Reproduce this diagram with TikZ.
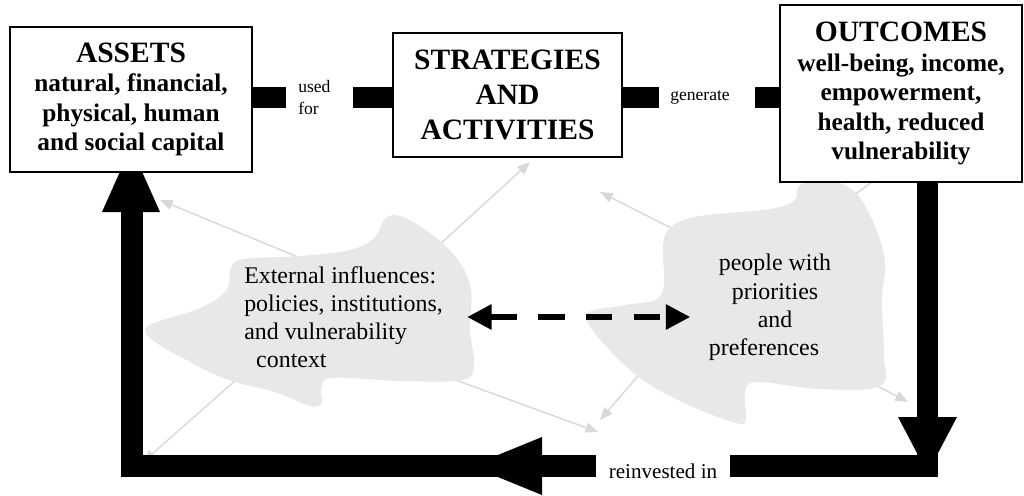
\documentclass[tikz,border=0pt]{standalone}
\usepackage{fontspec}
\setmainfont{Liberation Serif}
\usetikzlibrary{arrows.meta,backgrounds}

\definecolor{blobgray}{RGB}{232,232,232}
\definecolor{ghost}{RGB}{216,216,216}
\newcommand{\boxhead}{\fontsize{21}{25}\selectfont\bfseries}
\newcommand{\boxbody}{\fontsize{18}{21}\selectfont\bfseries}

\tikzset{
	box/.style={draw, line width=2pt, fill=white, align=center, inner sep=0pt, font=\boxbody},
	plain/.style={inner sep=0pt, font=\fontsize{17}{20}\selectfont},
	small/.style={inner sep=0pt, font=\fontsize{12.5}{15}\selectfont},
	bar/.style={line width=15pt},
	loopbar/.style={line width=15pt, line join=miter},
	faint/.style={draw=ghost, line width=1pt, -{Triangle[length=9pt,width=7pt]}},
	twoway/.style={line width=4.7pt, dash pattern=on 19pt off 15pt,
		{Triangle[length=17.5pt,width=17pt]}-{Triangle[length=17.5pt,width=17pt]}}
}

\begin{document}
\begin{tikzpicture}[x=0.025cm, y=-0.025cm]
			\useasboundingbox (0,0) rectangle (1024,495);
			
			% the three boxes on top
			\node[box, minimum width=6.05cm, minimum height=3.625cm] (assets) at (131,99.5)
				{{\boxhead ASSETS}\\natural, financial,\\physical, human\\and social capital};
			\node[box, font=\boxhead, minimum width=5.725cm, minimum height=3.1cm] (strat) at (507.5,95)
				{STRATEGIES\\AND\\ACTIVITIES};
			\node[box, minimum width=6.05cm, minimum height=4.425cm] (outcomes) at (901,93.5)
				{{\boxhead OUTCOMES}\\well-being, income,\\empowerment,\\health, reduced\\vulnerability};
			
			% small labels on the links
			\node[small, anchor=north west, align=left] (usedfor) at (298,80.5) {used\\for};
			\node[small] (generate) at (700,97) {generate};
			\node[font=\fontsize{15}{18}\selectfont, inner xsep=9pt, inner ysep=0pt] (reinvest) at (663,471) {reinvested in};
			
			% texts in the clouds
			\node[plain, anchor=north west, align=left] (extinf) at (244,266)
				{External influences:\\policies, institutions,\\and vulnerability\\\hspace*{8.5pt}context};
			\node[plain, anchor=north, align=center] (people) at (775,254)
				{people with\\priorities\\and\\preferences\hspace*{15.6pt}};
			
			\draw[bar] (assets.east |- usedfor) -- ++(33,0);
			\draw[bar] (strat.west |- usedfor) -- ++(-39,0);
			\draw[bar] (strat.east |- usedfor) -- ++(36,0);
			\draw[bar] (outcomes.west |- usedfor) -- ++(-24,0);
			
			% the big loop back
			\coordinate (loopR) at (927.5,466);
			\coordinate (loopL) at (132,466);
			\draw[loopbar] (outcomes.south -| loopR) -- (loopR) -- (reinvest.east |- loopR);
			\draw[loopbar] (reinvest.west |- loopL) -- (loopL) -- (assets.south -| loopL);
			
			\draw[twoway] ([xshift=17pt]extinf.east) -- ([xshift=-13pt]people.west |- extinf.east);
			
			\begin{scope}[on background layer]
				\foreach \xa/\ya/\xb/\yb in {310/262/160/200, 425/258/530/162, 245/372/143/462, 450/378/598/432,
					685/235/600/192, 845/202/885/172, 650/362/600/420, 870/382/908/402}
					\draw[faint] (\xa,\ya) -- (\xb,\yb);
				
				\fill[blobgray] plot[smooth cycle, tension=0.6] coordinates {
					(145,330) (198,309) (226,291) (231,268) (245,259) (300,256) (350,250) (374,238)
					(385,219) (400,216) (430,233) (458,260) (471,290) (470,330) (474,365) (462,380)
					(400,381) (332,378) (321,390) (322,403) (310,406) (275,392) (232,381) (190,362)};
				\fill[blobgray] plot[smooth cycle, tension=0.6] coordinates {
					(586,318) (620,306) (655,300) (664,284) (663,245) (672,226) (700,216) (770,209)
					(795,200) (800,185) (830,181) (855,192) (874,224) (885,262) (882,300) (884,355)
					(880,386) (820,389) (756,382) (745,394) (746,418) (736,423) (680,401) (630,370)};
				
				% heads on the loop
				\fill (898,417) -- (957,417) -- (927.5,473) -- cycle;
				\fill (542,437) -- (542,495) -- (471,466) -- cycle;
				\fill (102,212) -- (160,212) -- (131,147) -- cycle;
			\end{scope}
		\end{tikzpicture}
\end{document}
